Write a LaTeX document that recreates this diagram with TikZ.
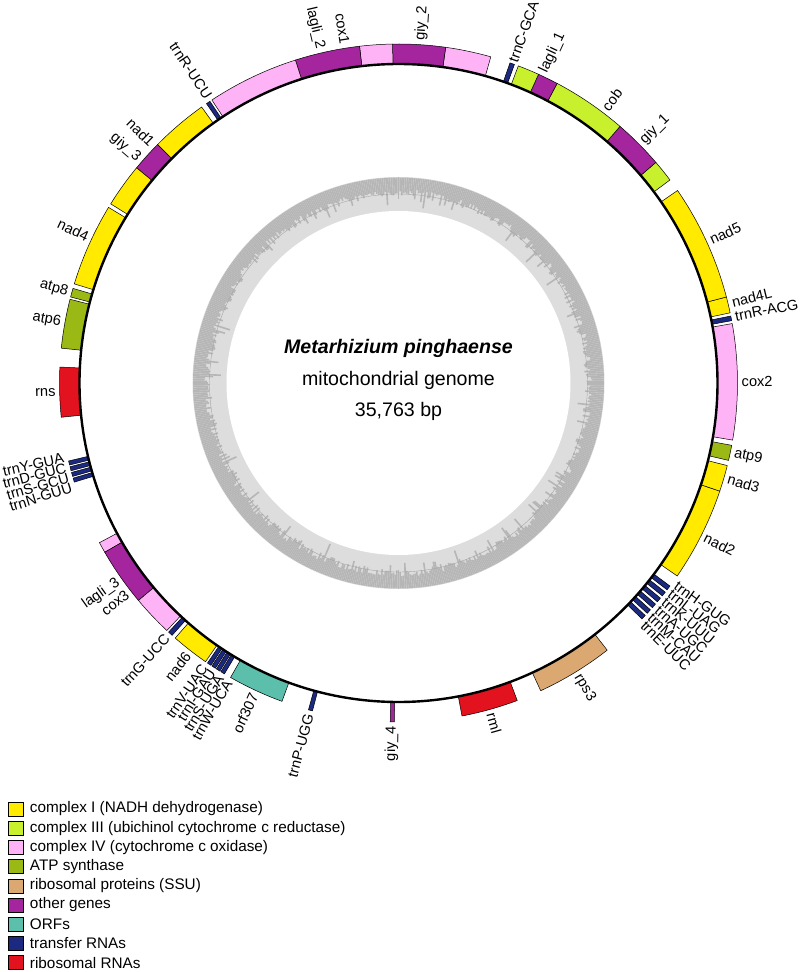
\documentclass[tikz,border=0pt]{standalone}
\usepackage{fontspec}
\setmainfont{Liberation Sans}
\usepackage{tikz}
\usetikzlibrary{positioning}
\definecolor{cplxI}{HTML}{FFEA00}
\definecolor{cplxIII}{HTML}{C8F02C}
\definecolor{cplxIV}{HTML}{FFB3F7}
\definecolor{atpase}{HTML}{9AB914}
\definecolor{ribprot}{HTML}{DBA872}
\definecolor{othergene}{HTML}{A4259E}
\definecolor{orfs}{HTML}{5BBFAB}
\definecolor{trna}{HTML}{1B2A80}
\definecolor{rrna}{HTML}{E2131F}
\definecolor{gclight}{HTML}{DDDDDD}
\definecolor{gcdark}{HTML}{B6B6B6}

\begin{document}
\begin{tikzpicture}[
  x=1pt, y=1pt,
  gene/.style={draw=black, line width=0.5pt},
  genome/.style={draw=black, line width=2.4pt},
  gcbar/.style={draw=gcdark, line width=1.6pt},
  lbl/.style={inner sep=0pt, font=\fontsize{14.6}{16}\selectfont},
  title/.style={inner sep=0pt, anchor=base, font=\fontsize{19.6}{22}\selectfont},
  legbox/.style={draw=black, line width=0.6pt, minimum width=15pt, minimum height=14pt, inner sep=0pt},
  legtext/.style={inner sep=0pt, anchor=west, font=\fontsize{15.3}{17}\selectfont}
]
\useasboundingbox (-398.5,-589) rectangle (401.5,383);

\fill[gclight] (0,0) circle[radius=206];
\fill[white] (0,0) circle[radius=172];
\pgfmathsetseed{35763}
\foreach \a in {0,0.5,...,359.5} {
  \pgfmathsetmacro\rr{194-8*rnd-12*(rnd>0.88)*rnd}
  \draw[gcbar] (\a:205.5) -- (\a:\rr);
}
\draw[gray!70, line width=0.4pt] (0,0) circle[radius=189];

\foreach \s/\e/\c in {
  350.3/370.1/cplxIV, 10.6/11.4/trna, 11.95/14.7/cplxI, 14.7/34.6/cplxI,
  36.8/40.6/cplxIII, 40.6/49.2/othergene, 49.2/62.1/cplxIII, 62.1/65.6/othergene,
  65.6/69.3/cplxIII, 70.0/70.8/trna, 74.2/82.0/cplxIV, 82.0/91.0/othergene,
  91.0/96.6/cplxIV, 96.6/107.7/othergene, 107.7/123.4/cplxIV, 123.8/124.5/trna,
  125.5/135.3/cplxI, 135.3/140.6/othergene, 140.6/148.1/cplxI, 148.8/163.0/cplxI,
  163.8/165.3/atpase, 165.7/174.1/atpase, 177.3/185.8/rrna,
  193.3/194.0/trna, 194.3/195.0/trna, 195.3/196.0/trna, 196.3/197.0/trna,
  208.1/209.95/cplxIV, 209.95/219.9/othergene, 219.9/226.9/cplxIV,
  227.3/228.1/trna, 228.8/235.3/cplxI,
  235.7/236.4/trna, 236.6/237.3/trna, 237.5/238.2/trna, 238.4/239.1/trna,
  240.3/249.9/orfs, 254.6/255.3/trna, 268.6/269.3/othergene,
  280.8/290.5/rrna, 294.8/308.0/ribprot,
  315.9/316.7/trna, 317.2/318.0/trna, 318.5/319.3/trna, 319.8/320.6/trna,
  321.1/321.9/trna, 322.4/323.2/trna,
  325.3/341.4/cplxI, 341.4/345.9/cplxI, 346.8/349.4/atpase}
  \draw[gene, fill=\c] (\s:319) arc[start angle=\s, end angle=\e, radius=319]
    -- (\e:339) arc[start angle=\e, end angle=\s, radius=339] -- cycle;

\draw[genome] (0,0) circle[radius=319];

\foreach \a/\t/\r [count=\i] in {
  0.2/cox2/343, 11.2/trnR-ACG/343, 13.6/nad4L/343, 24.6/nad5/343,
  44.7/giy\_1/343, 53.0/cob/343, 65.0/lagli\_1/343, 70.4/trnC-GCA/341,
  86.3/giy\_2/343, -11.9/atp9/343, -16.2/nad3/343, -26.7/nad2/343,
  -36.0/trnH-GUG/343, -37.7/trnL-UAG/343, -39.4/trnK-UUU/343, -41.1/trnA-UGC/343,
  -42.8/trnM-CAU/343, -44.5/trnE-UUC/343, -58.6/rps3/343, -74.3/rml/343}
  \node[lbl, anchor=west, rotate=\a] (rlab\i) at (\a:\r) {\t};

\foreach \a/\t [count=\i] in {
  99.0/cox1, 103.2/lagli\_2, 123.6/trnR-UCU, 135.8/nad1, 139.2/giy\_3,
  154.8/nad4, 164.6/atp8, 169.8/atp6, 181.6/rns,
  192.6/trnY-GUA, 194.3/trnD-GUC, 196.0/trnS-GCU, 197.7/trnN-GUU,
  215.3/lagli\_3, 217.8/cox3, 227.6/trnG-UCC, 232.1/nad6,
  235.5/trnV-UAC, 237.1/trnI-GAU, 238.7/trnS-UGA, 240.3/trnW-UCA,
  245.1/orf307, 254.9/trnP-UGG, 268.9/giy\_4}
  \node[lbl, anchor=east, rotate=\a-180] (llab\i) at (\a:343) {\t};

\node[title] (species) at (0,29.7) {\bfseries\itshape Metarhizium pinghaense};
\node[title] (kind) at (0,-2) {mitochondrial genome};
\node[title] (size) at (0,-33.7) {35,763 bp};

\foreach \c/\t [count=\i] in {
  cplxI/complex I (NADH dehydrogenase),
  cplxIII/complex III (ubichinol cytochrome c reductase),
  cplxIV/complex IV (cytochrome c oxidase),
  atpase/ATP synthase,
  ribprot/ribosomal proteins (SSU),
  othergene/other genes,
  orfs/ORFs,
  trna/transfer RNAs,
  rrna/ribosomal RNAs} {
  \node[legbox, fill=\c] (key\i) at (-382.5, {-426-19.2*(\i-1)}) {};
  \node[legtext, right=6pt of key\i] (keytext\i) {\t};
}
\end{tikzpicture}
\end{document}
